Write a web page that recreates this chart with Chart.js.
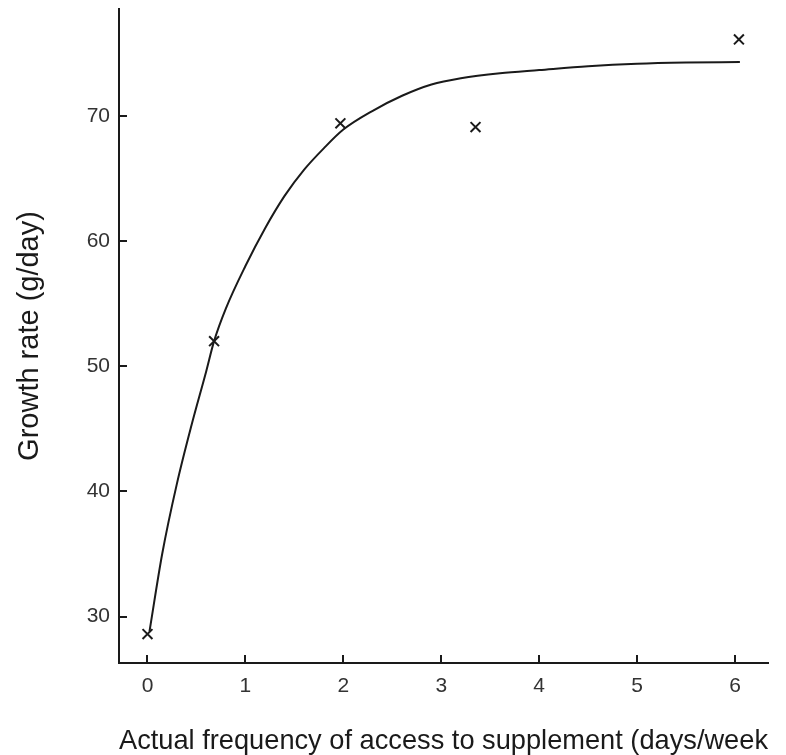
<!DOCTYPE html>
<html>
<head>
<meta charset="utf-8">
<script src="https://cdn.jsdelivr.net/npm/chart.js@4"></script>
<style>
html,body{margin:0;padding:0;background:#fff;}
#wrap{width:786px;height:755px;position:relative;}
</style>
</head>
<body>
<div id="wrap"><canvas id="c" width="786" height="755"></canvas></div>
<script>
// Observed data (crosses)
const obsX = [0, 0.68, 1.97, 3.35, 6.04];
const obsY = [28.6, 52.0, 69.4, 69.1, 76.1];
// Fitted curve
const fitX = [0.02, 0.15, 0.30, 0.45, 0.60, 0.68, 0.80, 1.00, 1.20, 1.40, 1.60, 1.80, 2.00, 2.30, 2.60, 2.90, 3.20, 3.60, 4.00, 4.50, 5.00, 5.50, 6.05];
const fitY = [28.8, 35.0, 40.6, 45.3, 49.6, 52.0, 54.6, 58.0, 61.0, 63.6, 65.7, 67.4, 68.9, 70.4, 71.6, 72.5, 73.0, 73.4, 73.65, 73.95, 74.15, 74.25, 74.3];
// Tick labels
const xTicks = [0, 1, 2, 3, 4, 5, 6];
const yTicks = [30, 40, 50, 60, 70];
const xTitle = 'Actual frequency of access to supplement (days/week';
const yTitle = 'Growth rate (g/day)';

const FONT = "'Liberation Sans', Arial, sans-serif";
const INK = '#1a1a1a';

new Chart(document.getElementById('c'), {
  type: 'scatter',
  data: {
    datasets: [
      {
        type: 'line',
        data: fitX.map((x, i) => ({x: x, y: fitY[i]})),
        borderColor: INK,
        borderWidth: 2,
        pointRadius: 0,
        cubicInterpolationMode: 'monotone',
        fill: false
      },
      {
        data: obsX.map((x, i) => ({x: x, y: obsY[i]})),
        pointStyle: 'crossRot',
        pointRadius: 7,
        borderColor: INK,
        backgroundColor: INK,
        borderWidth: 2
      }
    ]
  },
  options: {
    responsive: false,
    animation: false,
    events: [],
    layout: {padding: {left: 0, right: 18, top: 8, bottom: 0}},
    plugins: {legend: {display: false}, tooltip: {enabled: false}},
    scales: {
      x: {
        type: 'linear',
        min: -0.291,
        max: 6.337,
        afterBuildTicks: s => { s.ticks = xTicks.map(v => ({value: v})); },
        afterFit: s => { s.height = 92; s.paddingLeft = 0; s.paddingRight = 0; },
        border: {display: true, color: INK, width: 2},
        grid: {drawOnChartArea: false, drawTicks: true, tickLength: -8, color: INK, lineWidth: 2},
        ticks: {padding: 19, color: '#333', font: {family: FONT, size: 21}, maxRotation: 0, autoSkip: false},
        title: {display: true, text: xTitle, color: INK, font: {family: FONT, size: 28.5, lineHeight: 1}, padding: 0}
      },
      y: {
        type: 'linear',
        min: 26.29,
        max: 78.53,
        afterBuildTicks: s => { s.ticks = yTicks.map(v => ({value: v})); },
        afterFit: s => { s.width = 119; s.paddingTop = 0; s.paddingBottom = 0; },
        border: {display: true, color: INK, width: 2},
        grid: {drawOnChartArea: false, drawTicks: true, tickLength: -8, color: INK, lineWidth: 2},
        ticks: {padding: 17, color: '#333', font: {family: FONT, size: 21}, autoSkip: false},
        title: {display: true, text: yTitle, color: INK, font: {family: FONT, size: 29, lineHeight: 1}, padding: {top: 15, bottom: 0}}
      }
    }
  }
});
</script>
</body>
</html>
